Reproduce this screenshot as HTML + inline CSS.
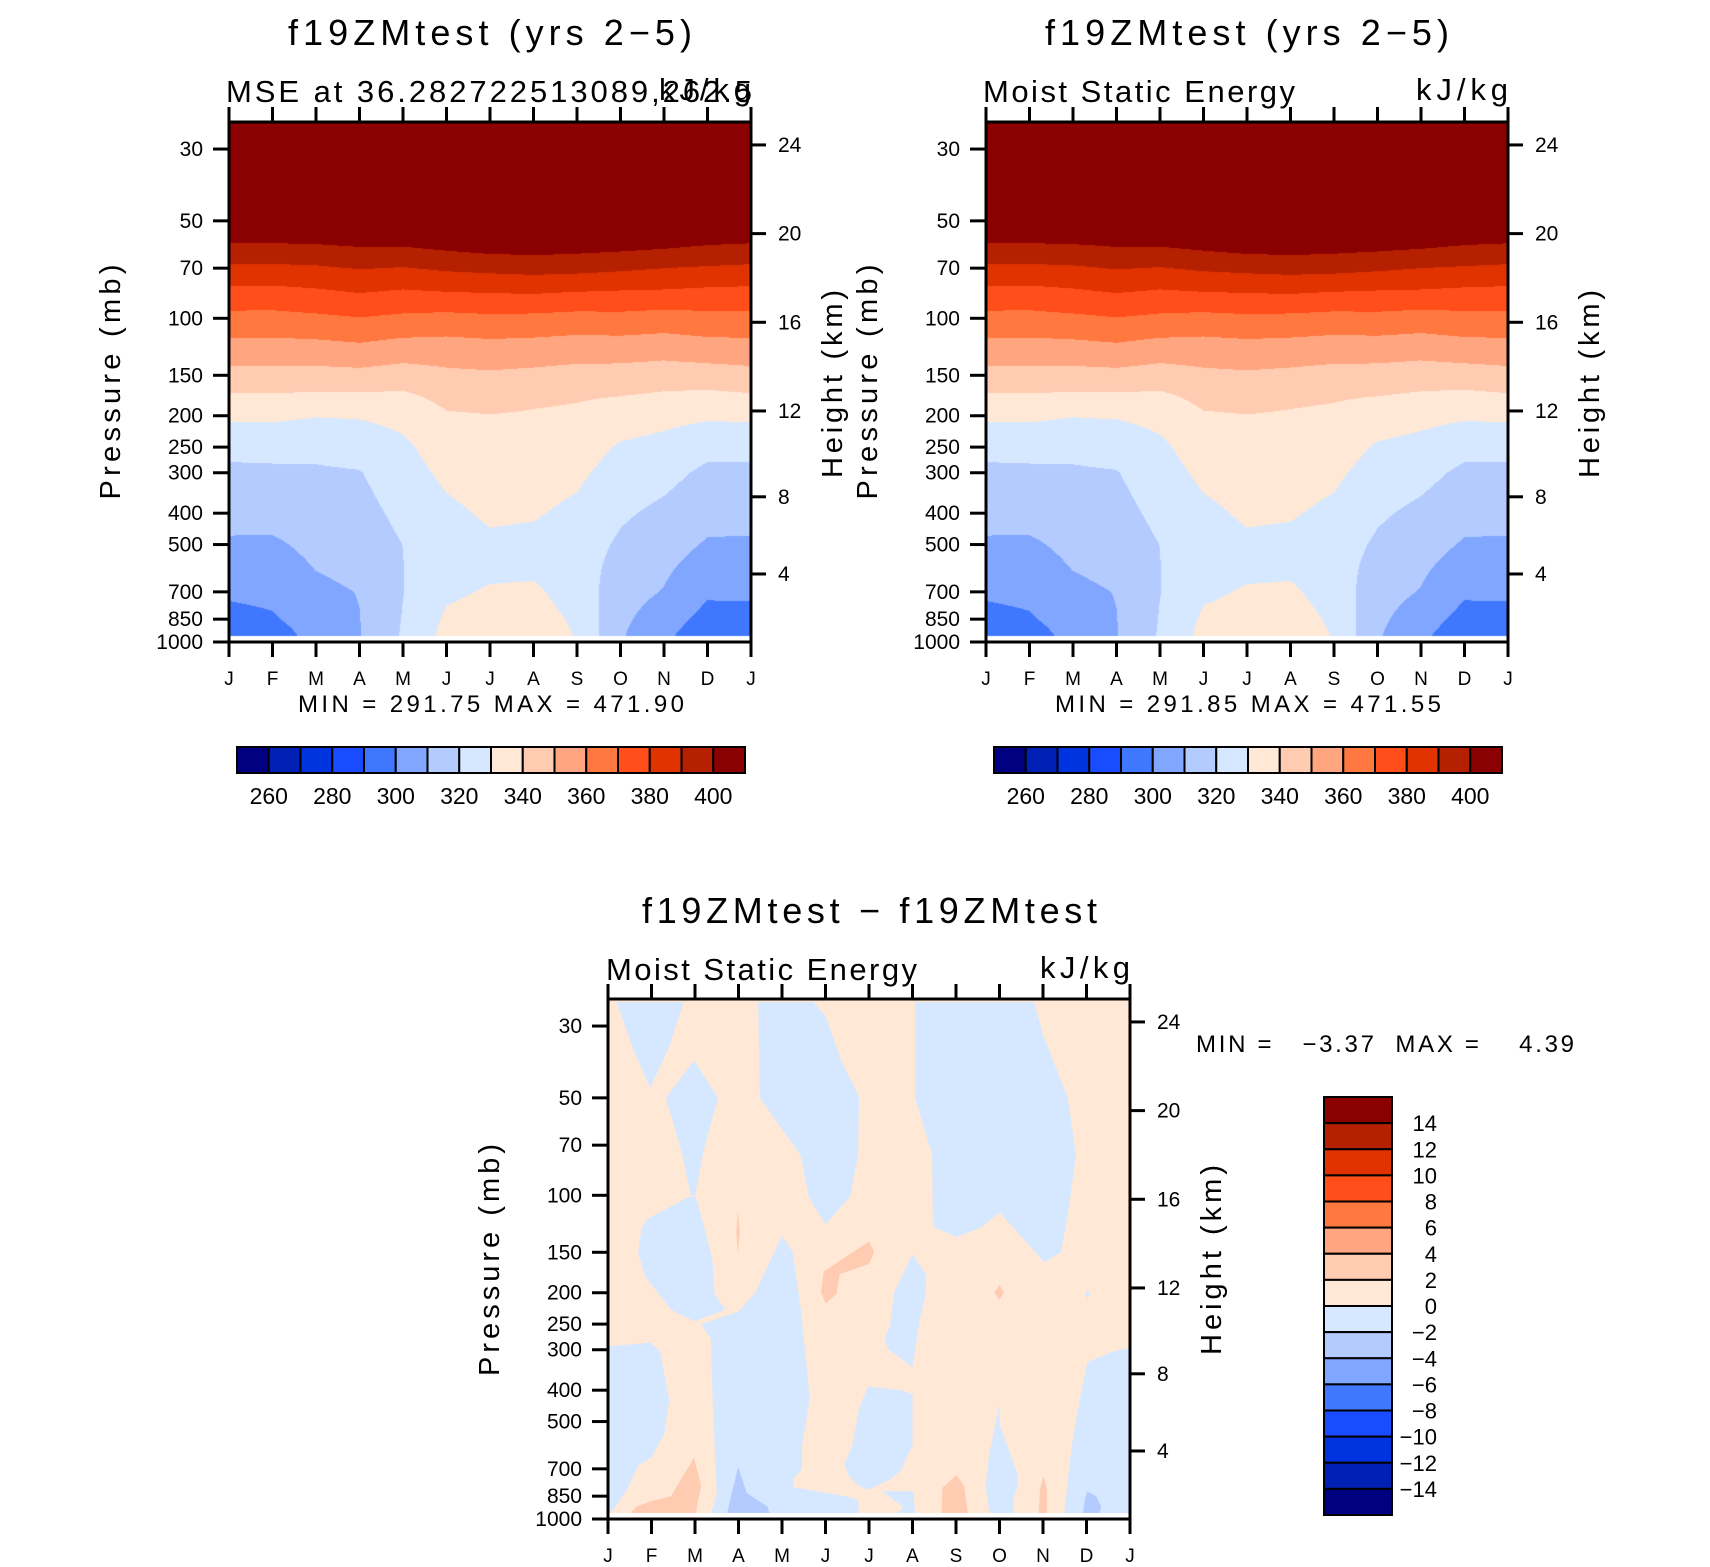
<!DOCTYPE html>
<html><head><meta charset="utf-8">
<style>
html,body{margin:0;padding:0;background:#fff;}
#wrap{position:relative;width:1710px;height:1567px;overflow:hidden;}
canvas,svg{position:absolute;left:0;top:0;}
text{font-family:"Liberation Sans",sans-serif;fill:#000;white-space:pre;}
</style></head>
<body>
<div id="wrap">
<canvas id="cv" width="1710" height="1567"></canvas>
<svg id="sv" width="1710" height="1567" xmlns="http://www.w3.org/2000/svg"></svg>
</div>
<script>
// ---------------- data ----------------
const monthLabels = ["J","F","M","A","M","J","J","A","S","O","N","D","J"];
const gridPressures = [25,30,40,50,60,70,85,100,125,150,175,200,250,300,400,500,600,700,850,950];
// MSE (kJ/kg) per month column, rows follow gridPressures (25 mb -> 950 mb)
const mseJan = [470,450,425,412,398.3,388.1,375.8,367.1,355.8,346.7,338.6,331.8,322.8,318,313,308.8,305,301.7,296.6,293.2];
const mseFeb = [470,450,425,412,398.2,388,375.5,367,355.6,346.6,338.6,331.8,323.2,318.2,313.2,308.6,305.5,302.8,298.8,294.8];
const mseMar = [470,450,425,412,398.8,388.7,377,368.1,356,346.5,338,330.4,322.7,318.7,315.1,312.3,310.1,308,305.5,304];
const mseApr = [470,450,425,412,400.2,390.5,379,369.6,357.3,347,338.1,330.8,324,319.5,316.4,314,312.1,310.3,309.8,309.5];
const mseMay = [470,450,425,412,400.1,389.5,377.3,368,355.1,345.4,337.8,332.7,328.2,326,322.6,320.1,319.8,319.8,320.5,321];
const mseJun = [470,450,426,414,402,391.5,378.2,367,354.9,347.9,342.6,339,334.7,332,328,326,327,328.5,331.5,333];
const mseJul = [470,450,427,416,403.9,392.6,378.8,368,355.9,348.6,343.6,339.7,337,334.7,331.3,328.5,328.5,330.8,333,335];
const mseAug = [470,450,427,416.5,404.3,393.5,379.2,367.5,355.3,347.7,341.8,339,336.3,334,330.8,327.8,328.5,331.5,334,335];
const mseSep = [470,450,427,416,403.5,393,378,366.5,354.2,346.6,340.8,338.2,334.8,331.9,328,325,325,326,328.5,329.5];
const mseOct = [470,450,426,414,402.5,391.6,377.4,367,354.4,346.2,339.8,335.1,328.9,325.9,321.4,318.5,316,314,312,311];
const mseNov = [470,450,425,413,401.2,390,377.2,365.7,353.6,345,338.2,332.9,326.9,323,317.8,314.2,311.4,309.5,305,302.5];
const mseDec = [470,450,425,412,399.3,389,376.2,367.1,355.2,345.4,337.3,331.5,322.8,318,313.2,309,305,301.6,296.5,293];
const mseJan2 = [470,450,425,412,398.3,388.1,375.8,367.1,355.8,346.7,338.6,331.8,322.8,318,313,308.8,305,301.7,296.6,293.2];
const mseColumns = [mseJan,mseFeb,mseMar,mseApr,mseMay,mseJun,mseJul,mseAug,mseSep,mseOct,mseNov,mseDec,mseJan2];
const mseLevels = [260,270,280,290,300,310,320,330,340,350,360,370,380,390,400];
const mseTickLabels = ["260","280","300","320","340","360","380","400"];
const diffLevels = [-14,-12,-10,-8,-6,-4,-2,0,2,4,6,8,10,12,14];
const palette = ["#000080","#0021b3","#0033e0","#1a4cff","#3f78ff","#80a6ff","#b3cbff","#d6e8ff","#ffe9d6","#ffcbb1","#ffa680","#ff7840","#ff4e1a","#e03300","#b52100","#8b0000"];
const pressureTicks = [30,50,70,100,150,200,250,300,400,500,700,850,1000];
const heightTicks = [24,20,16,12,8,4];
// difference field regions: [month, pressure(mb)] vertices
const diffNegA = [[0.2,25.3],[1.74,25.3],[1.41,34.7],[0.97,46.6],[0.6,36]];
const diffNegB = [[1.98,38.3],[2.53,50],[2.2,72.3],[2.0,100.6],[1.9,99.4],[1.72,76],[1.33,50]];
const diffNegC = [[1.9,100.6],[0.91,118],[0.78,125],[0.69,150],[0.85,178],[1.45,226],[1.98,245],[2.7,226],[2.45,202],[2.4,158],[2.22,127],[2.02,101]];
const diffNegD = [[3.45,25.3],[4.72,25.3],[5.0,27.9],[5.37,38.6],[5.77,49.5],[5.75,75],[5.57,100.6],[5.0,123],[4.62,102],[4.42,75],[3.49,50]];
const diffNegE = [[2.14,250],[2.99,229],[3.39,199],[4.0,133.4],[4.25,150],[4.44,228],[4.64,425],[4.46,590],[4.46,700],[4.26,753],[4.26,797],[5.45,851],[5.75,872],[5.77,958],[2.38,958],[2.5,831],[2.42,485],[2.36,277]];
const diffNegF = [[0,293],[0.97,285],[1.19,302],[1.41,430],[1.29,548],[0.99,646],[0.69,684],[0.44,811],[0.12,938],[0,958]];
const diffNegG = [[5.97,390],[6.74,400],[7.0,411],[7.0,597],[6.9,627],[6.74,705],[6.5,753],[6.0,811],[5.77,791],[5.53,735],[5.43,675],[5.61,597],[5.77,457]];
const diffNegH = [[7.0,152],[7.32,176],[7.3,204],[7.16,245],[7.0,340],[6.74,320],[6.43,298],[6.36,273],[6.48,254],[6.58,199]];
const diffNegI = [[7.06,25.3],[9.8,25.3],[10.0,31.9],[10.57,50],[10.76,75],[10.57,115],[10.41,150],[10.03,161],[9.0,113],[8.56,126],[8.01,134.5],[7.47,125],[7.45,75],[7.06,50]];
const diffNegJ = [[12,296],[11.66,302],[11.02,327],[10.86,415],[10.65,605],[10.49,958],[12,958]];
const diffNegK = [[9.0,440],[9.0,510],[9.4,717],[9.42,791],[9.32,872],[9.32,958],[8.77,958],[8.68,791],[8.76,635]];
const diffNegL = [[6.3,821],[7.02,821],[7.06,958],[6.66,958],[6.78,916]];
const diffNegM = [[11.02,195],[11.08,200],[11.02,210],[10.98,200]];
const diffNeg2A = [[2.99,690],[3.19,831],[3.67,916],[3.71,958],[2.74,958],[2.8,883]];
const diffNeg2B = [[11.02,821],[11.22,851],[11.34,916],[11.3,958],[10.92,958],[10.96,872]];
const diffPos2A = [[1.98,647],[2.14,791],[2.06,894],[2.02,958],[0.52,958],[0.65,916],[0.97,883],[1.45,851],[1.61,781]];
const diffPos2B = [[2.99,112],[3.03,130],[2.99,152],[2.95,130]];
const diffPos2C = [[6.0,139],[6.12,150],[6.0,163],[5.33,175],[5.25,202],[5.0,216],[4.9,199],[4.96,172]];
const diffPos2D = [[8.01,732],[8.19,791],[8.27,958],[7.67,958],[7.69,801]];
const diffPos2E = [[10.01,735],[10.09,811],[10.09,958],[9.9,958],[9.93,811]];
const diffPos2F = [[9.0,189],[9.1,200],[9.0,210],[8.88,200]];
const diffNegRegions = [diffNegA,diffNegB,diffNegC,diffNegD,diffNegE,diffNegF,diffNegG,diffNegH,diffNegI,diffNegJ,diffNegK,diffNegL,diffNegM];
const diffNeg2Regions = [diffNeg2A,diffNeg2B];
const diffPos2Regions = [diffPos2A,diffPos2B,diffPos2C,diffPos2D,diffPos2E,diffPos2F];

// ---------------- helpers ----------------
const NS = "http://www.w3.org/2000/svg";
const svg = document.getElementById("sv");
function el(tag, attrs, parent){
  const e = document.createElementNS(NS, tag);
  for (const k in attrs) e.setAttribute(k, attrs[k]);
  (parent||svg).appendChild(e);
  return e;
}
function txt(s, x, y, size, opts, parent){
  opts = opts||{};
  const a = {x:x, y:y, "font-size":size};
  if (opts.anchor) a["text-anchor"] = opts.anchor;
  if (opts.len){ a.textLength = opts.len; a.lengthAdjust = "spacing"; }
  if (opts.transform) a.transform = opts.transform;
  const t = el("text", a, parent);
  t.textContent = s;
  return t;
}
function heightToP(h){
  const z = h*1000;
  if (z <= 11000) return 1013.25*Math.pow(1-2.25577e-5*z, 5.25588);
  return 226.32*Math.exp(-(z-11000)/6341.6);
}
function makeAxes(x0, yTop){
  const W = 522, H = 520, yBottom = yTop + H;
  return {
    x0:x0, x1:x0+W, yTop:yTop, yBottom:yBottom,
    x: m => x0 + m*W/12,
    y: p => yBottom - 323.7*Math.log10(1000/p)
  };
}
function drawFrame(ax, g, dec){
  for (let m=0;m<=12;m++){
    const xx = ax.x(m);
    const t1 = el("line",{x1:xx,x2:xx,y1:ax.yTop-15,y2:ax.yTop,stroke:"#000","stroke-width":3},g);
    
    
    const t2 = el("line",{x1:xx,x2:xx,y1:ax.yBottom,y2:ax.yBottom+15,stroke:"#000","stroke-width":3},g);
    
    
    const lb = txt(monthLabels[m], xx, ax.yBottom+43, 19, {anchor:"middle"}, g);
    
    
  }
  pressureTicks.forEach(p=>{
    const yy = ax.y(p);
    const t = el("line",{x1:ax.x0-16,x2:ax.x0,y1:yy,y2:yy,stroke:"#000","stroke-width":3},g);
    
    
    const l = txt(String(p), ax.x0-26, yy+7, 21, {anchor:"end"}, g);
    
    
  });
  heightTicks.forEach(h=>{
    const yy = ax.y(heightToP(h));
    const t = el("line",{x1:ax.x1,x2:ax.x1+15,y1:yy,y2:yy,stroke:"#000","stroke-width":3},g);
    
    
    const l = txt(String(h), ax.x1+27, yy+7, 21, {}, g);
    
    
  });
  const r = el("rect",{x:ax.x0,y:ax.yTop,width:ax.x1-ax.x0,height:ax.yBottom-ax.yTop,fill:"none",stroke:"#000","stroke-width":3},g);
  
  
}
function hexRGB(h){ return [parseInt(h.substr(1,2),16),parseInt(h.substr(3,2),16),parseInt(h.substr(5,2),16)]; }

// ---------------- contour fill (canvas) ----------------
const ctx = document.getElementById("cv").getContext("2d");
ctx.fillStyle="#fff"; ctx.fillRect(0,0,1710,1567);
function fillMSE(ax, columns){
  const rowY = gridPressures.map(p=>ax.y(p));
  const yDataBot = ax.y(958);
  const w = ax.x1-ax.x0, h = ax.yBottom-ax.yTop;
  const img = ctx.createImageData(w, h);
  const rgb = palette.map(hexRGB);
  for (let py=0; py<h; py++){
    const Y = ax.yTop + py + 0.5;
    if (Y > yDataBot) continue;
    let j = 0;
    while (j < rowY.length-2 && Y > rowY[j+1]) j++;
    let t = (Y-rowY[j])/(rowY[j+1]-rowY[j]); t = Math.max(0,Math.min(1,t));
    for (let px=0; px<w; px++){
      const m = (px+0.5)/w*12;
      let i = Math.min(11, Math.floor(m)); const s = m-i;
      const a = columns[i][j]*(1-t)+columns[i][j+1]*t;
      const b = columns[i+1][j]*(1-t)+columns[i+1][j+1]*t;
      const v = a*(1-s)+b*s;
      let k = 0; while (k < mseLevels.length && v >= mseLevels[k]) k++;
      const c = rgb[k]; const o = (py*w+px)*4;
      img.data[o]=c[0]; img.data[o+1]=c[1]; img.data[o+2]=c[2]; img.data[o+3]=255;
    }
  }
  ctx.putImageData(img, ax.x0, ax.yTop);
}

// ---------------- panels ----------------
function hColorbar(x0, y0, name){
  const g = el("g",{});
  
  
  const bw = 508/16;
  palette.forEach((c,i)=>{
    const r = el("rect",{x:x0+i*bw,y:y0,width:bw,height:26,fill:c,stroke:"#000","stroke-width":2},g);
    
    
  });
  mseTickLabels.forEach((s,i)=>{
    const l = txt(s, x0+(2*i+1)*bw, y0+57, 23, {anchor:"middle"}, g);
    
    
  });
}
function topPanel(x0, name, sub, minmax){
  const ax = makeAxes(x0, 122);
  fillMSE(ax, mseColumns);
  const g = el("g",{});
  
  
  const tt = txt("f19ZMtest (yrs 2\u22125)", x0+59, 45, 36, {len:404}, g);
  
  
  const st = txt(sub[0], x0-3, 102, 31, {len:sub[1]}, g);
  
  
  const un = txt("kJ/kg", x0+522, 100, 31, {anchor:"end", len:92}, g);
  
  
  drawFrame(ax, g, name);
  const mm = txt(minmax, x0+69, 712, 24, {len:386}, g);
  
  
  const yl = txt("Pressure (mb)", 0, 0, 29, {anchor:"middle", len:235, transform:`translate(${x0-109},382) rotate(-90)`}, g);
  
  
  const hl = txt("Height (km)", 0, 0, 29, {anchor:"middle", len:188, transform:`translate(${x0+613},384) rotate(-90)`}, g);
  
  
  hColorbar(x0+8, 747, name+'-colorbar');
}
topPanel(229, "mse-panel-left", ["MSE at 36.282722513089,262.5", 526], "MIN = 291.75 MAX = 471.90");
topPanel(986, "mse-panel-right", ["Moist Static Energy", 312], "MIN = 291.85 MAX = 471.55");

// difference panel
(function(){
  const ax = makeAxes(608, 999);
  const g = el("g",{});
  
  
  const bg = el("rect",{x:ax.x0,y:ax.yTop,width:522,height:ax.y(958)-ax.yTop,fill:palette[8]},g);
  
  
  function poly(pts, fill, nm){
    const d = pts.map(q=>ax.x(q[0]).toFixed(1)+","+Math.min(ax.y(q[1]),ax.y(958)).toFixed(1)).join(" ");
    const p = el("polygon",{points:d,fill:fill},g);
    
    
  }
  diffNegRegions.forEach(r=>poly(r, palette[7], 'diff-negative-region'));
  diffNeg2Regions.forEach(r=>poly(r, palette[6], 'diff-neg2-region'));
  diffPos2Regions.forEach(r=>poly(r, palette[9], 'diff-pos2-region'));
  const tt = txt("f19ZMtest \u2212 f19ZMtest", 642, 923, 36, {len:455}, g);
  
  
  const st = txt("Moist Static Energy", 606, 980, 31, {len:311}, g);
  
  
  const un = txt("kJ/kg", 1130, 978, 31, {anchor:"end", len:90}, g);
  
  
  drawFrame(ax, g, 'diff');
  const yl = txt("Pressure (mb)", 0, 0, 29, {anchor:"middle", len:232, transform:`translate(499,1260) rotate(-90)`}, g);
  
  
  const hl = txt("Height (km)", 0, 0, 29, {anchor:"middle", len:190, transform:`translate(1221,1260) rotate(-90)`}, g);
  
  
  const mm = txt("MIN =   \u22123.37  MAX =    4.39", 1196, 1052, 24, {len:378}, g);
  
  
  const cb = el("g",{},g);
  
  
  const bh = 418/16;
  for (let i=0;i<16;i++){
    const r = el("rect",{x:1324,y:1097+i*bh,width:68,height:bh,fill:palette[15-i],stroke:"#000","stroke-width":2},cb);
    
    
  }
  for (let k=0;k<15;k++){
    const v = diffLevels[14-k];
    const l = txt(v<0?"\u2212"+(-v):String(v), 1437, 1097+(k+1)*bh+8, 22, {anchor:"end"}, cb);
    
    
  }
})();
</script>
</body></html>
